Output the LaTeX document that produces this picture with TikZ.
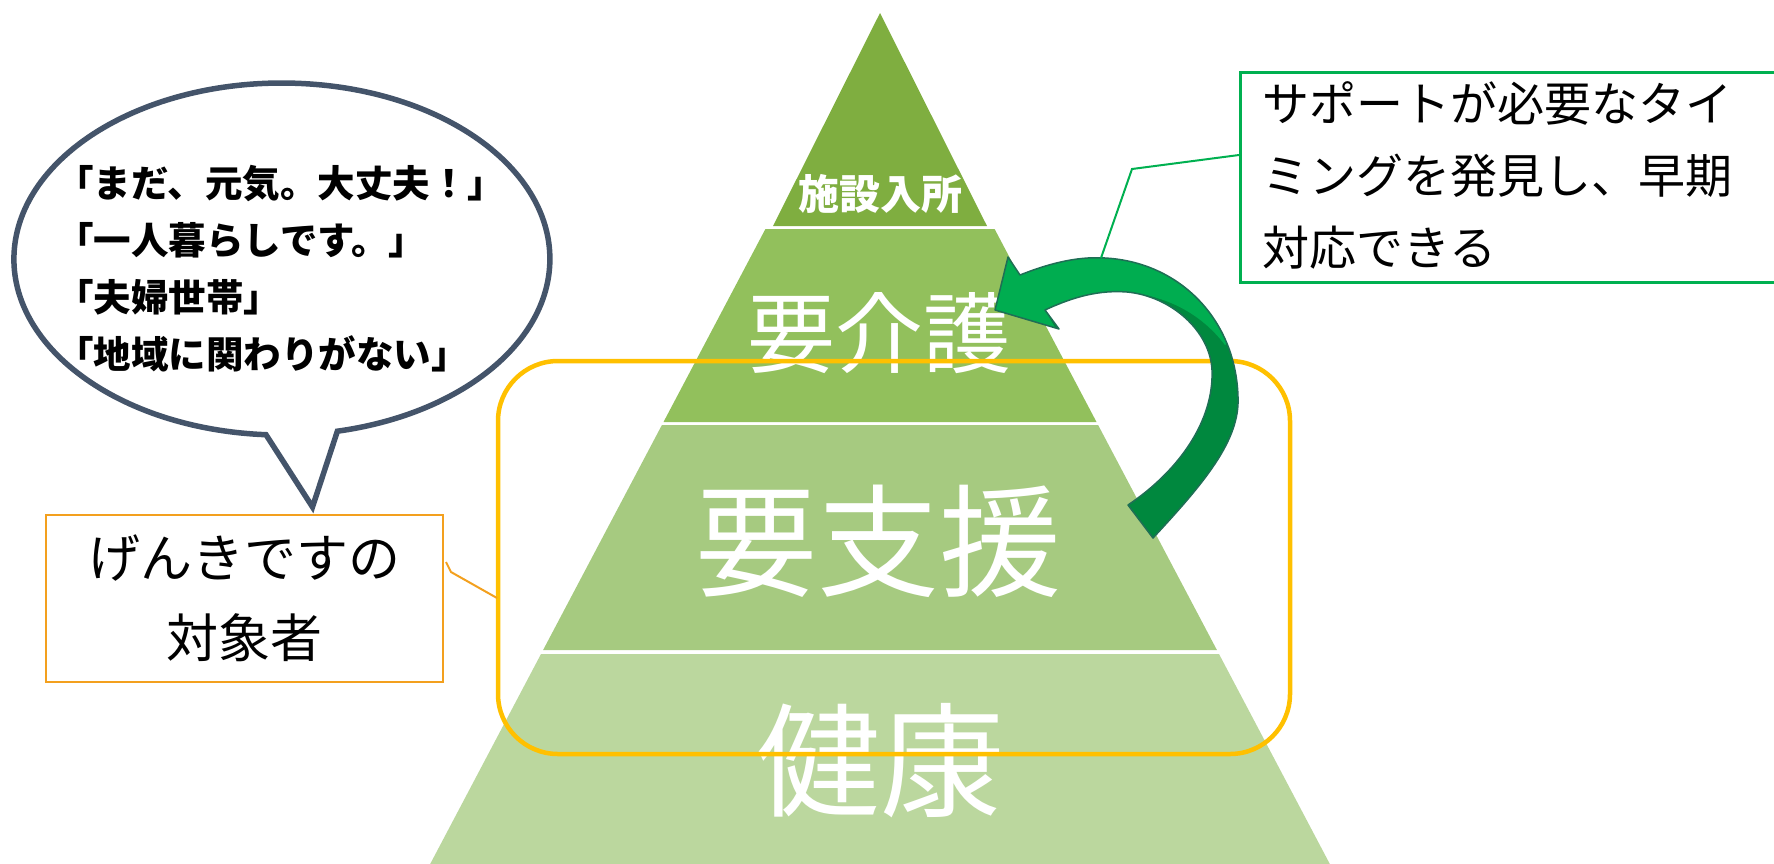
\documentclass[tikz,border=0pt]{standalone}
\usepackage{fontspec}
\setmainfont{Noto Sans CJK JP}
\definecolor{tierA}{RGB}{127,174,64}
\definecolor{tierB}{RGB}{146,192,92}
\definecolor{tierC}{RGB}{166,202,128}
\definecolor{tierD}{RGB}{187,215,158}
\definecolor{bubblec}{RGB}{68,84,106}
\definecolor{orangec}{RGB}{243,160,30}
\definecolor{yellowc}{RGB}{255,192,0}
\definecolor{greenc}{RGB}{0,176,80}
\definecolor{arrowlight}{RGB}{0,173,80}
\definecolor{arrowdark}{RGB}{0,136,62}
\definecolor{arrowedge}{RGB}{31,110,85}
\begin{document}
\begin{tikzpicture}[x=1pt,y=-1pt,
  tierlabel/.style={text=white, inner sep=0},
  boxline/.style={line width=2.5},
  leader/.style={line width=2}]
\useasboundingbox (0,0) rectangle (1774,863);
% pyramid
\fill[tierA] (880,13) -- (773,226) -- (987,226) -- cycle;
\fill[tierB] (765.4,229) -- (994.6,229) -- (1096.5,422) -- (663.5,422) -- cycle;
\fill[tierC] (661.9,425) -- (1098.1,425) -- (1216.9,650) -- (543.1,650) -- cycle;
\fill[tierD] (541,654) -- (1219,654) -- (1333,870) -- (427,870) -- cycle;
\node[tierlabel, font=\fontsize{41}{41}\selectfont\bfseries] (shisetsu) at (880,194) {施設入所};
\node[tierlabel, font=\fontsize{88}{88}\selectfont] (kaigo) at (879,333) {要介護};
\node[tierlabel, font=\fontsize{122}{122}\selectfont] (shien) at (878,541) {要支援};
\node[tierlabel, font=\fontsize{124}{124}\selectfont] (kenko) at (880,761) {健康};
% yellow focus box
\node[draw=yellowc, line width=4.5, rounded corners=60, minimum width=792, minimum height=393, inner sep=0] (focus) at (894,557.5) {};
% curved arrow
\def\arrowpath{(1153,538) .. controls (1205,482) and (1240,440) .. (1238,397)
 .. controls (1236,320) and (1180,262) .. (1105,258)
 .. controls (1075,256) and (1045,265) .. (1020,275)
 -- (1008,257) -- (995,310) -- (1059,329) -- (1045,310)
 .. controls (1075,296) and (1100,290) .. (1127,292)
 .. controls (1170,296) and (1210,330) .. (1212,370)
 .. controls (1214,420) and (1180,470) .. (1128,505) -- cycle}
\begin{scope}
  \clip \arrowpath;
  \fill[arrowdark] \arrowpath;
  \fill[arrowlight] (980,240) -- (980,345) -- (1062,340) -- (1045,310)
    .. controls (1075,296) and (1100,290) .. (1127,292)
    .. controls (1165,296) and (1200,312) .. (1225,345)
    -- (1270,300) -- (1160,225) -- cycle;
\end{scope}
\draw[arrowedge, line width=1.5, line join=round] \arrowpath;
% support box
\node[draw=greenc, boxline, minimum width=560, minimum height=210, anchor=north west, inner sep=0] (supportbox) at (1239,71) {};
\node[anchor=west, align=left, inner sep=0, font=\fontsize{47}{72}\selectfont] (supporttext) at (1262,175.5) {サポートが必要なタイ\\ミングを発見し、早期\\対応できる};
\coordinate (gstart) at (1239,155);
\coordinate (gbend) at (1132,169);
\coordinate (gend) at (1101,258);
\draw[greenc, leader] (gstart) -- (gbend) -- (gend);
% speech bubble
\draw[bubblec, fill=white, line width=5.5, line join=miter] (266,434.7) arc[start angle=93.4, end angle=438.05, x radius=268, y radius=176] -- (312.5,507) -- cycle;
\node[anchor=west, align=left, inner sep=0, font=\fontsize{37.5}{57}\selectfont\bfseries] (voices) at (56,268.5) {「まだ、元気。大丈夫！」\\「一人暮らしです。」\\「夫婦世帯」\\「地域に関わりがない」};
% genki box
\node[draw=orangec, boxline, minimum width=397, minimum height=167, inner sep=0, align=center, font=\fontsize{52}{80}\selectfont] (genki) at (244.5,598.5) {げんきですの\\対象者};
\coordinate (ostart) at (446,562);
\coordinate (obend) at (451,572);
\coordinate (oend) at (497,598);
\draw[orangec, leader] (ostart) -- (obend) -- (oend);
\end{tikzpicture}
\end{document}
